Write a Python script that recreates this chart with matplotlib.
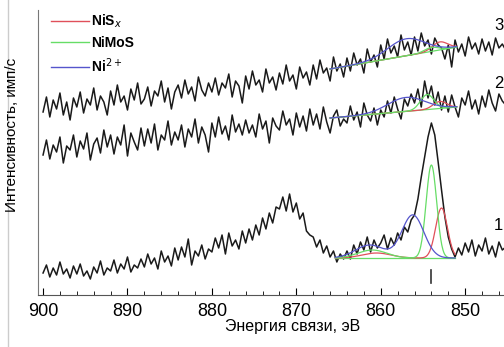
import numpy as np
import matplotlib.pyplot as plt
from matplotlib.lines import Line2D

plt.rcParams['font.family'] = ['Liberation Sans', 'DejaVu Sans']

# energy grid, eV (900 -> 845.2, step 0.4)
energy = 900.0 - 0.4 * np.arange(138)

# spectrum 1 (bottom), arbitrary units
spec1 = [22, 30, 18, 27, 20, 33, 21, 26, 17, 29,
         21, 31, 19, 24, 16, 28, 22, 34, 20, 27,
         24, 35, 22, 31, 26, 38, 23, 30, 27, 36,
         28, 41, 31, 37, 26, 44, 33, 39, 29, 47,
         35, 48, 38, 56, 30, 44, 39, 50, 36, 46,
         43, 57, 47, 60, 41, 62, 49, 55, 46, 64,
         52, 66, 55, 70, 60, 77, 66, 82, 72, 88,
         86, 98, 84, 101, 83, 92, 76, 82, 64, 60,
         58, 48, 55, 42, 49, 38, 44, 33, 41, 36,
         44, 36, 50, 41, 53, 45, 58, 43, 55, 47,
         52, 60, 46, 57, 50, 62, 55, 68, 63, 75,
         80, 96, 118, 138, 158, 172, 160, 133, 105, 78,
         58, 46, 38, 47, 40, 52, 43, 55, 39, 50,
         44, 57, 41, 49, 38, 53, 45, 48]

# spectrum 2 (middle)
spec2 = [140, 155, 136, 150, 143, 158, 132, 149, 145, 160,
         138, 154, 146, 162, 135, 151, 157, 142, 165, 148,
         160, 141, 158, 150, 170, 139, 162, 153, 145, 167,
         149, 166, 152, 171, 145, 160, 155, 174, 150, 163,
         155, 170, 148, 166, 158, 176, 152, 168, 160, 143,
         172, 158, 178, 161, 169, 155, 180, 163, 171, 160,
         175, 162, 170, 158, 181, 166, 174, 152, 177, 169,
         165, 184, 170, 176, 160, 182, 168, 179, 164, 186,
         170, 181, 166, 188, 173, 162, 179, 185, 169, 176,
         172, 189, 175, 183, 168, 192, 180, 174, 187, 170,
         185, 178, 194, 182, 198, 186, 176, 196, 189, 201,
         192, 206, 188, 214, 197, 209, 190, 203, 185, 199,
         183, 200, 188, 178, 197, 190, 204, 186, 195, 181,
         199, 188, 205, 192, 184, 201, 194, 190]

# spectrum 3 (top)
spec3 = [183, 198, 178, 195, 186, 202, 180, 193, 175, 197,
         188, 203, 182, 196, 190, 207, 185, 199, 193, 180,
         204, 190, 210, 193, 199, 185, 206, 195, 212, 191,
         196, 208, 189, 204, 199, 214, 193, 207, 186, 203,
         210, 197, 215, 201, 208, 194, 218, 205, 199, 212,
         203, 217, 200, 212, 207, 221, 198, 214, 209, 192,
         219, 206, 224, 210, 215, 203, 226, 212, 218, 205,
         222, 211, 230, 214, 220, 206, 228, 217, 223, 210,
         230, 216, 235, 222, 227, 214, 238, 224, 231, 218,
         237, 224, 242, 230, 236, 222, 246, 233, 240, 228,
         250, 236, 256, 242, 249, 238, 260, 245, 253, 240,
         258, 244, 262, 249, 255, 241, 257, 250, 247, 236,
         250, 228, 255, 243, 251, 239, 258, 246, 252, 241,
         256, 244, 253, 240, 257, 247, 251, 245]

# fit baselines: (E_start, v_start, E_end, v_end)
base1 = (865.4, 37, 851.2, 37)
base2 = (866.0, 177, 851.0, 188)
base3 = (866.0, 226, 851.0, 248)

# peak components: (center, height, sigma) per component, main + satellite
comp_names = ['NiS$_x$', 'NiMoS', 'Ni$^{2+}$']
comp_colors = ['#e0505a', '#66dd66', '#5555cc']
peaks1 = [[(852.8, 50, 0.70), (860.5, 5, 1.7)],
          [(854.0, 93, 0.62), (861.0, 8, 1.7)],
          [(856.2, 43, 1.30), (861.3, 13, 1.7)]]
peaks2 = [[(853.0, 7, 0.8)],
          [(854.5, 15, 0.8)],
          [(857.0, 14, 2.2)]]
peaks3 = [[(853.0, 8, 0.9)],
          [(854.0, 4, 0.8)],
          [(857.0, 17, 2.2)]]

labels = ['1', '2', '3']
label_v = [70, 212, 270]
marker_E = 854.1

fig = plt.figure(figsize=(5.04, 3.47), dpi=100)
ax = fig.add_axes([38 / 504, 1 - 295 / 347, 466 / 504, 285 / 347])

for spec in (spec1, spec2, spec3):
    ax.plot(energy, spec, color='#1a1a1a', lw=1.1)

for base, peaks in ((base1, peaks1), (base2, peaks2), (base3, peaks3)):
    e0, v0, e1, v1 = base
    ee = np.linspace(e0, e1, 200)
    bl = v0 + (v1 - v0) * (ee - e0) / (e1 - e0)
    ax.plot(ee, bl, color=comp_colors[1], lw=0.9)
    for k, plist in enumerate(peaks):
        yy = bl.copy()
        for c, h, s in plist:
            yy = yy + h * np.exp(-0.5 * ((ee - c) / s) ** 2)
        ax.plot(ee, yy, color=comp_colors[k], lw=0.9)

# legend
handles = [Line2D([], [], color=c, lw=1.0) for c in comp_colors]
leg = ax.legend(handles, comp_names, loc='upper left',
                bbox_to_anchor=(0.0, 1.035), frameon=False, fontsize=10,
                handlelength=2.8, handletextpad=0.15, labelspacing=0.45)
for t in leg.get_texts():
    t.set_fontweight('bold')

for lab, v in zip(labels, label_v):
    ax.text(845.5, v, lab, fontsize=12, va='center', ha='right')

ax.plot([marker_E, marker_E], [12, 25], color='#333333', lw=1.2)

ax.set_xlim(900.6, 845.4)
ax.set_ylim(0, 285)
ax.set_xticks([900, 890, 880, 870, 860, 850])
ax.set_xticks(np.arange(900, 844, -2), minor=True)
ax.tick_params(axis='x', which='major', direction='in', length=5, labelsize=13, pad=6)
ax.tick_params(axis='x', which='minor', direction='in', length=3)
ax.set_yticks([])
ax.spines['top'].set_visible(False)
ax.spines['right'].set_visible(False)
ax.spines['left'].set_color('#777777')
ax.spines['bottom'].set_color('#555555')

fig.text(293 / 504, 1 - 327 / 347, 'Энергия связи, эВ', ha='center', va='center', fontsize=11.5)
fig.text(12 / 504, 1 - 135 / 347, 'Интенсивность, имп/с', ha='center', va='center',
         rotation=90, fontsize=11)
fig.add_artist(Line2D([8 / 504, 8 / 504], [0, 1], color='#cccccc', lw=1.0))

plt.savefig('out.png', dpi=100)
